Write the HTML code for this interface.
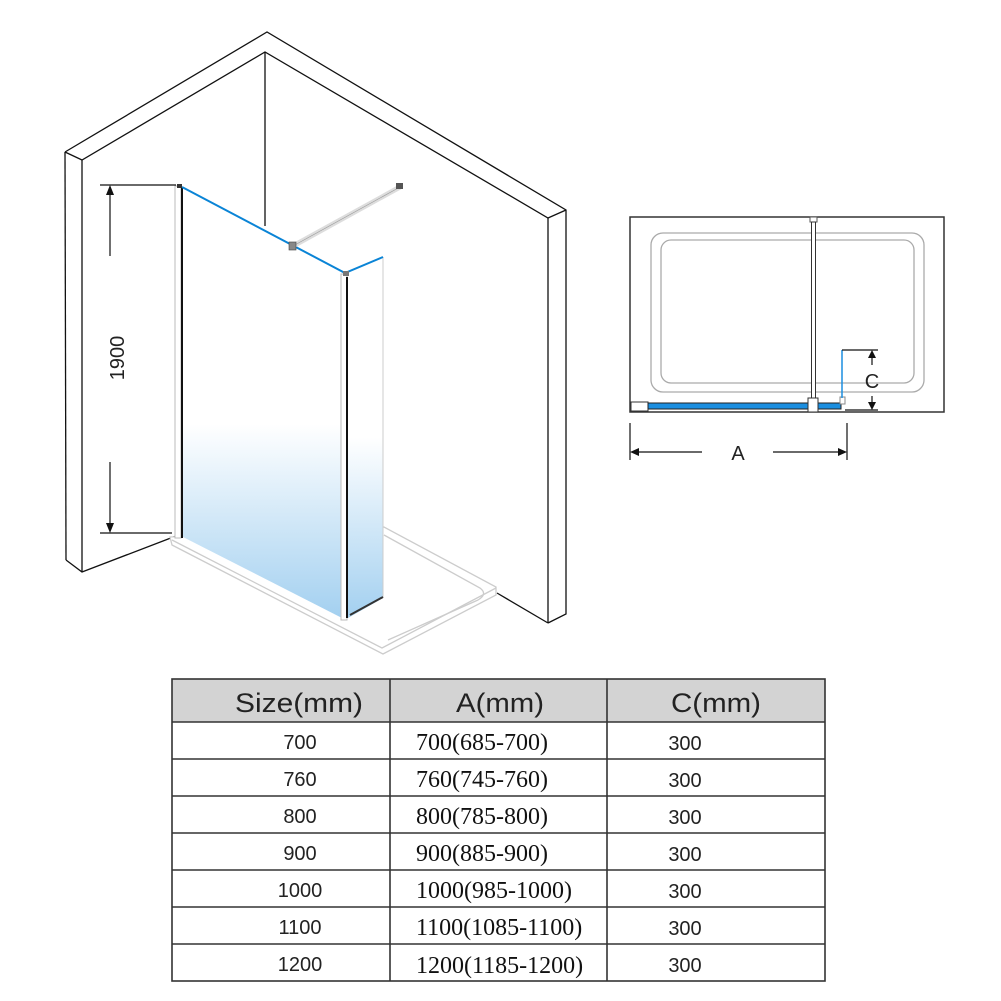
<!DOCTYPE html>
<html><head><meta charset="utf-8"><style>
html,body{margin:0;padding:0;background:#fff;}
svg{display:block;}
</style></head><body>
<svg width="1001" height="1001" viewBox="0 0 1001 1001" xmlns="http://www.w3.org/2000/svg">
<defs>
<linearGradient id="g" x1="0" y1="0" x2="0" y2="1">
<stop offset="0" stop-color="#fff"/><stop offset="0.55" stop-color="#fff"/><stop offset="1" stop-color="#a3d0f0"/>
</linearGradient>
<linearGradient id="g2" x1="0" y1="0" x2="0" y2="1">
<stop offset="0" stop-color="#fff"/><stop offset="0.5" stop-color="#fff"/><stop offset="1" stop-color="#a3d0f0"/>
</linearGradient>
</defs>
<g fill="none" stroke="#111" stroke-width="1.3">
<polyline points="65,152 267,32 566,210 566,614 548,623"/>
<polyline points="65,152 82,160 265,52 548,218 566,210"/>
<line x1="65" y1="152" x2="66" y2="560"/>
<polyline points="66,560 82,572 176,536"/>
<line x1="82" y1="160" x2="82" y2="572"/>
<line x1="265" y1="52" x2="265" y2="226"/>
<line x1="548" y1="218" x2="548" y2="623"/>
<line x1="497" y1="593" x2="548" y2="623"/>
</g>
<g fill="#fff" stroke="#ccc" stroke-width="1.3">
<polygon points="170,537 384,527 496,587 496,595 383,654 172,545"/>
<polyline points="172,540 382,648 496,588" fill="none"/>
<path d="M384,535 L480,588 Q488,594 478,600 L388,640" fill="none"/>
</g>
<polygon points="183,187 342,274 342,618 183,537" fill="url(#g)"/>
<polygon points="348,275 383,257 383,598 348,618" fill="url(#g2)"/>
<line x1="383" y1="257" x2="383" y2="598" stroke="#ccc"/>
<line x1="350" y1="615" x2="383" y2="597" stroke="#333" stroke-width="2"/>
<rect x="175" y="186" width="6" height="352" fill="#fff" stroke="#bbb"/>
<line x1="182" y1="188" x2="182" y2="538" stroke="#111" stroke-width="2"/>
<rect x="341" y="274" width="6" height="346" fill="#fff" stroke="#bbb"/>
<line x1="347" y1="277" x2="347" y2="618" stroke="#111" stroke-width="2"/>
<polyline points="182,187 345,273 383,257" fill="none" stroke="#0a84d6" stroke-width="2"/>
<line x1="293" y1="246" x2="400" y2="187" stroke="#ddd" stroke-width="5"/>
<line x1="293" y1="246" x2="400" y2="187" stroke="#999" stroke-width="0.6"/>
<rect x="396" y="183" width="7" height="6" fill="#555"/>
<rect x="289" y="242" width="7" height="8" fill="#888" stroke="#444" stroke-width="0.6"/>
<rect x="343" y="271" width="6" height="5" fill="#777"/>
<rect x="177" y="184" width="5" height="4" fill="#333"/>
<g stroke="#111" stroke-width="1.2" fill="none">
<line x1="100" y1="185" x2="176" y2="185"/>
<line x1="100" y1="533" x2="172" y2="533"/>
<line x1="110" y1="188" x2="110" y2="256"/>
<line x1="110" y1="462" x2="110" y2="530"/>
</g>
<polygon points="110,185 106,195 114,195" fill="#111"/>
<polygon points="110,533 106,523 114,523" fill="#111"/>
<text x="0" y="0" transform="translate(124,358) rotate(-90)" text-anchor="middle" font-family="Liberation Sans, sans-serif" font-size="20" fill="#222">1900</text>
<rect x="630" y="217" width="314" height="195" fill="#fff" stroke="#333" stroke-width="1.5"/>
<rect x="651" y="233" width="273" height="159" rx="12" fill="none" stroke="#aaa" stroke-width="1.3"/>
<rect x="661" y="240" width="253" height="143" rx="10" fill="none" stroke="#aaa" stroke-width="1.3"/>
<rect x="810" y="217" width="7" height="5" fill="#fff" stroke="#555"/>
<rect x="811.5" y="222" width="4" height="176" fill="#fff" stroke="#333"/>
<rect x="631" y="402" width="17" height="9" fill="#fff" stroke="#333"/>
<rect x="648" y="403" width="193" height="6" fill="#1a8ee0" stroke="#222" stroke-width="1"/>
<rect x="808" y="398" width="10" height="14" fill="#fff" stroke="#333"/>
<rect x="840" y="397" width="5" height="7" fill="#fff" stroke="#888"/>
<line x1="842" y1="350" x2="842" y2="398" stroke="#1a8ee0" stroke-width="1.5"/>
<g stroke="#111" stroke-width="1.2">
<line x1="842" y1="350" x2="878" y2="350"/>
<line x1="845" y1="410" x2="878" y2="410"/>
<line x1="872" y1="355" x2="872" y2="365"/>
<line x1="872" y1="396" x2="872" y2="405"/>
<line x1="630" y1="423" x2="630" y2="460"/>
<line x1="847" y1="423" x2="847" y2="460"/>
<line x1="633" y1="452" x2="702" y2="452"/>
<line x1="773" y1="452" x2="844" y2="452"/>
</g>
<polygon points="872,350 868,358 876,358" fill="#111"/>
<polygon points="872,410 868,402 876,402" fill="#111"/>
<polygon points="630,452 639,448 639,456" fill="#111"/>
<polygon points="847,452 838,448 838,456" fill="#111"/>
<text x="872" y="388" text-anchor="middle" font-family="Liberation Sans, sans-serif" font-size="20" fill="#222">C</text>
<text x="738" y="460" text-anchor="middle" font-family="Liberation Sans, sans-serif" font-size="20" fill="#222">A</text>
<rect x="172" y="679" width="653" height="43" fill="#d3d3d3"/>
<g stroke="#333" stroke-width="1.6" fill="none">
<rect x="172" y="679" width="653" height="302"/>
<line x1="172" y1="722" x2="825" y2="722"/>
<line x1="172" y1="759" x2="825" y2="759"/>
<line x1="172" y1="796" x2="825" y2="796"/>
<line x1="172" y1="833" x2="825" y2="833"/>
<line x1="172" y1="870" x2="825" y2="870"/>
<line x1="172" y1="907" x2="825" y2="907"/>
<line x1="172" y1="944" x2="825" y2="944"/>
<line x1="390" y1="679" x2="390" y2="981"/>
<line x1="607" y1="679" x2="607" y2="981"/>
</g>
<g font-family="Liberation Sans, sans-serif" fill="#222">
<text x="299" y="712" font-size="27" text-anchor="middle" textLength="128" lengthAdjust="spacingAndGlyphs">Size(mm)</text>
<text x="500" y="712" font-size="27" text-anchor="middle" textLength="88" lengthAdjust="spacingAndGlyphs">A(mm)</text>
<text x="716" y="712" font-size="27" text-anchor="middle" textLength="90" lengthAdjust="spacingAndGlyphs">C(mm)</text>
<g font-size="20" text-anchor="middle">
<text x="300" y="749">700</text><text x="300" y="786">760</text><text x="300" y="823">800</text>
<text x="300" y="860">900</text><text x="300" y="897">1000</text><text x="300" y="934">1100</text><text x="300" y="971">1200</text>
</g>
<g font-size="20" text-anchor="middle">
<text x="685" y="750">300</text><text x="685" y="787">300</text><text x="685" y="824">300</text>
<text x="685" y="861">300</text><text x="685" y="898">300</text><text x="685" y="935">300</text><text x="685" y="972">300</text>
</g>
</g>
<g font-family="Liberation Serif, serif" font-size="24" fill="#111">
<text x="416" y="750">700(685-700)</text>
<text x="416" y="787">760(745-760)</text>
<text x="416" y="824">800(785-800)</text>
<text x="416" y="861">900(885-900)</text>
<text x="416" y="898">1000(985-1000)</text>
<text x="416" y="935">1100(1085-1100)</text>
<text x="416" y="973">1200(1185-1200)</text>
</g>
</svg>
</body></html>
